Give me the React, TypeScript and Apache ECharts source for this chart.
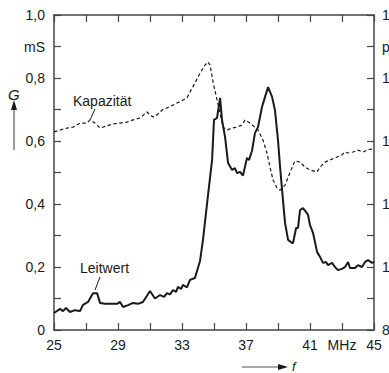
import React, { useEffect, useRef } from "react";
import * as echarts from "echarts";

// Leitwert G (mS) vs f (MHz)
const leitwertF = [25.0, 25.38, 25.56, 25.75, 26.0, 26.31, 26.63, 26.81, 27.13, 27.25, 27.44, 27.69, 27.88, 28.19, 28.5, 28.94, 29.13, 29.31, 29.63, 29.94, 30.25, 30.56, 31.0, 31.31, 31.63, 31.88, 32.06, 32.25, 32.44, 32.63, 32.75, 32.94, 33.06, 33.31, 33.5, 33.81, 34.13, 34.31, 34.63, 34.88, 35.0, 35.19, 35.38, 35.5, 35.69, 35.88, 36.13, 36.31, 36.44, 36.63, 36.81, 37.06, 37.19, 37.38, 37.56, 37.75, 38.0, 38.19, 38.38, 38.63, 38.81, 39.0, 39.13, 39.31, 39.44, 39.63, 39.88, 39.94, 40.13, 40.25, 40.38, 40.56, 40.75, 40.88, 41.0, 41.19, 41.44, 41.63, 41.81, 42.0, 42.13, 42.38, 42.56, 42.75, 43.0, 43.19, 43.38, 43.5, 43.81, 44.0, 44.25, 44.44, 44.63, 44.88, 45.0];
const leitwertG = [0.054, 0.067, 0.06, 0.07, 0.057, 0.063, 0.06, 0.08, 0.089, 0.1, 0.117, 0.117, 0.086, 0.083, 0.083, 0.083, 0.089, 0.073, 0.079, 0.086, 0.083, 0.089, 0.124, 0.1, 0.111, 0.105, 0.117, 0.113, 0.127, 0.121, 0.137, 0.13, 0.143, 0.135, 0.159, 0.165, 0.22, 0.286, 0.43, 0.54, 0.667, 0.673, 0.737, 0.667, 0.613, 0.53, 0.508, 0.514, 0.498, 0.502, 0.49, 0.546, 0.54, 0.57, 0.625, 0.644, 0.708, 0.74, 0.771, 0.74, 0.698, 0.603, 0.517, 0.413, 0.34, 0.286, 0.276, 0.276, 0.324, 0.324, 0.381, 0.387, 0.375, 0.365, 0.333, 0.308, 0.248, 0.232, 0.213, 0.216, 0.206, 0.213, 0.2, 0.19, 0.194, 0.2, 0.216, 0.197, 0.197, 0.206, 0.2, 0.216, 0.222, 0.213, 0.216];

// Kapazität C (pF) vs f (MHz)
const kapazitaetF = [25.0, 25.38, 25.81, 26.19, 26.63, 27.06, 27.25, 27.56, 27.88, 28.31, 28.69, 29.13, 29.56, 29.94, 30.38, 30.81, 31.0, 31.19, 31.44, 31.63, 31.81, 32.06, 32.44, 32.69, 32.88, 33.06, 33.31, 33.5, 33.81, 34.13, 34.44, 34.63, 34.75, 34.94, 35.19, 35.38, 35.56, 35.81, 36.13, 36.44, 36.75, 36.94, 37.25, 37.56, 37.75, 38.06, 38.31, 38.5, 38.69, 38.94, 39.13, 39.44, 39.75, 40.06, 40.38, 40.69, 41.0, 41.44, 41.63, 41.94, 42.25, 42.69, 43.0, 43.19, 43.38, 43.69, 44.0, 44.31, 44.56, 44.88, 45.0];
const kapazitaetC = [142.9, 143.5, 144.1, 144.4, 145.7, 145.7, 146.7, 145.7, 144.1, 144.8, 145.4, 145.7, 146.0, 146.7, 147.3, 149.2, 148.3, 147.6, 148.3, 149.2, 150.0, 150.5, 151.4, 152.1, 152.4, 153.0, 153.7, 155.6, 158.4, 161.6, 164.1, 165.1, 164.1, 158.7, 153.0, 148.9, 144.4, 143.5, 144.1, 144.4, 145.1, 146.7, 145.7, 144.4, 143.5, 140.3, 136.2, 131.7, 127.6, 125.1, 124.4, 126.0, 130.0, 133.7, 133.3, 131.7, 130.8, 130.2, 131.7, 133.3, 134.0, 134.9, 135.6, 136.5, 136.2, 136.5, 137.1, 136.5, 137.1, 137.5, 137.3];

// tick labels
const xLabels: Record<number, string> = { 25: "25", 29: "29", 33: "33", 37: "37", 41: "41", 43: "MHz", 45: "45" };
const gLabels: Record<number, string> = { 0: "0", 2: "0,2", 4: "0,4", 6: "0,6", 8: "0,8", 9: "mS", 10: "1,0" };
const cLabels: Record<number, string> = { 80: "80", 100: "100", 120: "120", 140: "140", 160: "160", 170: "pF", 180: "180" };

const FONT = "Liberation Sans";
const INK = "#1a1a1a";
const AXIS = "#444";

export default function App() {
  const ref = useRef<HTMLDivElement>(null);
  useEffect(() => {
    if (!ref.current) return;
    const chart = echarts.init(ref.current, undefined, { renderer: "svg" });
    const tickStyle = { show: true, inside: true, length: 7, lineStyle: { color: AXIS, width: 1.2 } };
    const lineStyleAxis = { show: true, lineStyle: { color: AXIS, width: 1.5 } };
    const labelBase = { color: INK, fontFamily: FONT, fontSize: 14 };
    chart.setOption({
      animation: false,
      backgroundColor: "#ffffff",
      grid: { left: 54, right: 15, top: 15, bottom: 43, containLabel: false, outerBoundsMode: "none" },
      xAxis: [
        {
          type: "value", min: 25, max: 45, interval: 2, position: "bottom",
          axisLine: lineStyleAxis, axisTick: tickStyle, splitLine: { show: false },
          axisLabel: { ...labelBase, margin: 8, formatter: (v: number) => xLabels[Math.round(v)] ?? "" },
        },
        {
          type: "value", min: 25, max: 45, interval: 2, position: "top",
          axisLine: lineStyleAxis, axisTick: tickStyle, splitLine: { show: false },
          axisLabel: { show: false },
        },
      ],
      yAxis: [
        {
          type: "value", min: 0, max: 1, interval: 0.1, position: "left",
          axisLine: lineStyleAxis, axisTick: tickStyle, splitLine: { show: false },
          axisLabel: { ...labelBase, margin: 9, formatter: (v: number) => gLabels[Math.round(v * 10)] ?? "" },
        },
        {
          type: "value", min: 80, max: 180, interval: 10, position: "right",
          axisLine: lineStyleAxis, axisTick: tickStyle, splitLine: { show: false },
          axisLabel: { ...labelBase, margin: 8, align: "left", formatter: (v: number) => cLabels[Math.round(v)] ?? "" },
        },
      ],
      series: [
        {
          name: "Leitwert", type: "line", xAxisIndex: 0, yAxisIndex: 0, showSymbol: false,
          data: leitwertF.map((f, i) => [f, leitwertG[i]]),
          lineStyle: { color: INK, width: 2 },
        },
        {
          name: "Kapazität", type: "line", xAxisIndex: 0, yAxisIndex: 1, showSymbol: false,
          data: kapazitaetF.map((f, i) => [f, kapazitaetC[i]]),
          lineStyle: { color: INK, width: 1.2, type: [3.5, 2.5] },
        },
      ],
      graphic: [
        { type: "text", x: 73, y: 94, style: { text: "Kapazität", fill: INK, font: `14px "${FONT}"` } },
        { type: "line", shape: { x1: 95, y1: 109, x2: 90, y2: 120 }, style: { stroke: INK, lineWidth: 1 } },
        { type: "text", x: 80, y: 261, style: { text: "Leitwert", fill: INK, font: `14px "${FONT}"` } },
        { type: "line", shape: { x1: 100, y1: 277, x2: 95, y2: 290 }, style: { stroke: INK, lineWidth: 1 } },
        { type: "text", x: 8, y: 87, style: { text: "G", fill: INK, font: `italic 15px "${FONT}"` } },
        { type: "line", shape: { x1: 14, y1: 150, x2: 14, y2: 108 }, style: { stroke: "#555", lineWidth: 1.2 } },
        { type: "polygon", shape: { points: [[14, 100], [11, 110], [17, 110]] }, style: { fill: INK } },
        { type: "line", shape: { x1: 242, y1: 367, x2: 280, y2: 367 }, style: { stroke: "#555", lineWidth: 1.2 } },
        { type: "polygon", shape: { points: [[288, 367], [278, 364], [278, 370]] }, style: { fill: INK } },
        { type: "text", x: 292, y: 366, style: { text: "f", fill: INK, font: `italic 13px "${FONT}"`, verticalAlign: "middle" } },
      ],
    });
    return () => chart.dispose();
  }, []);
  return <div ref={ref} style={{ position: "absolute", left: 0, top: 0, width: 389, height: 373 }} />;
}
